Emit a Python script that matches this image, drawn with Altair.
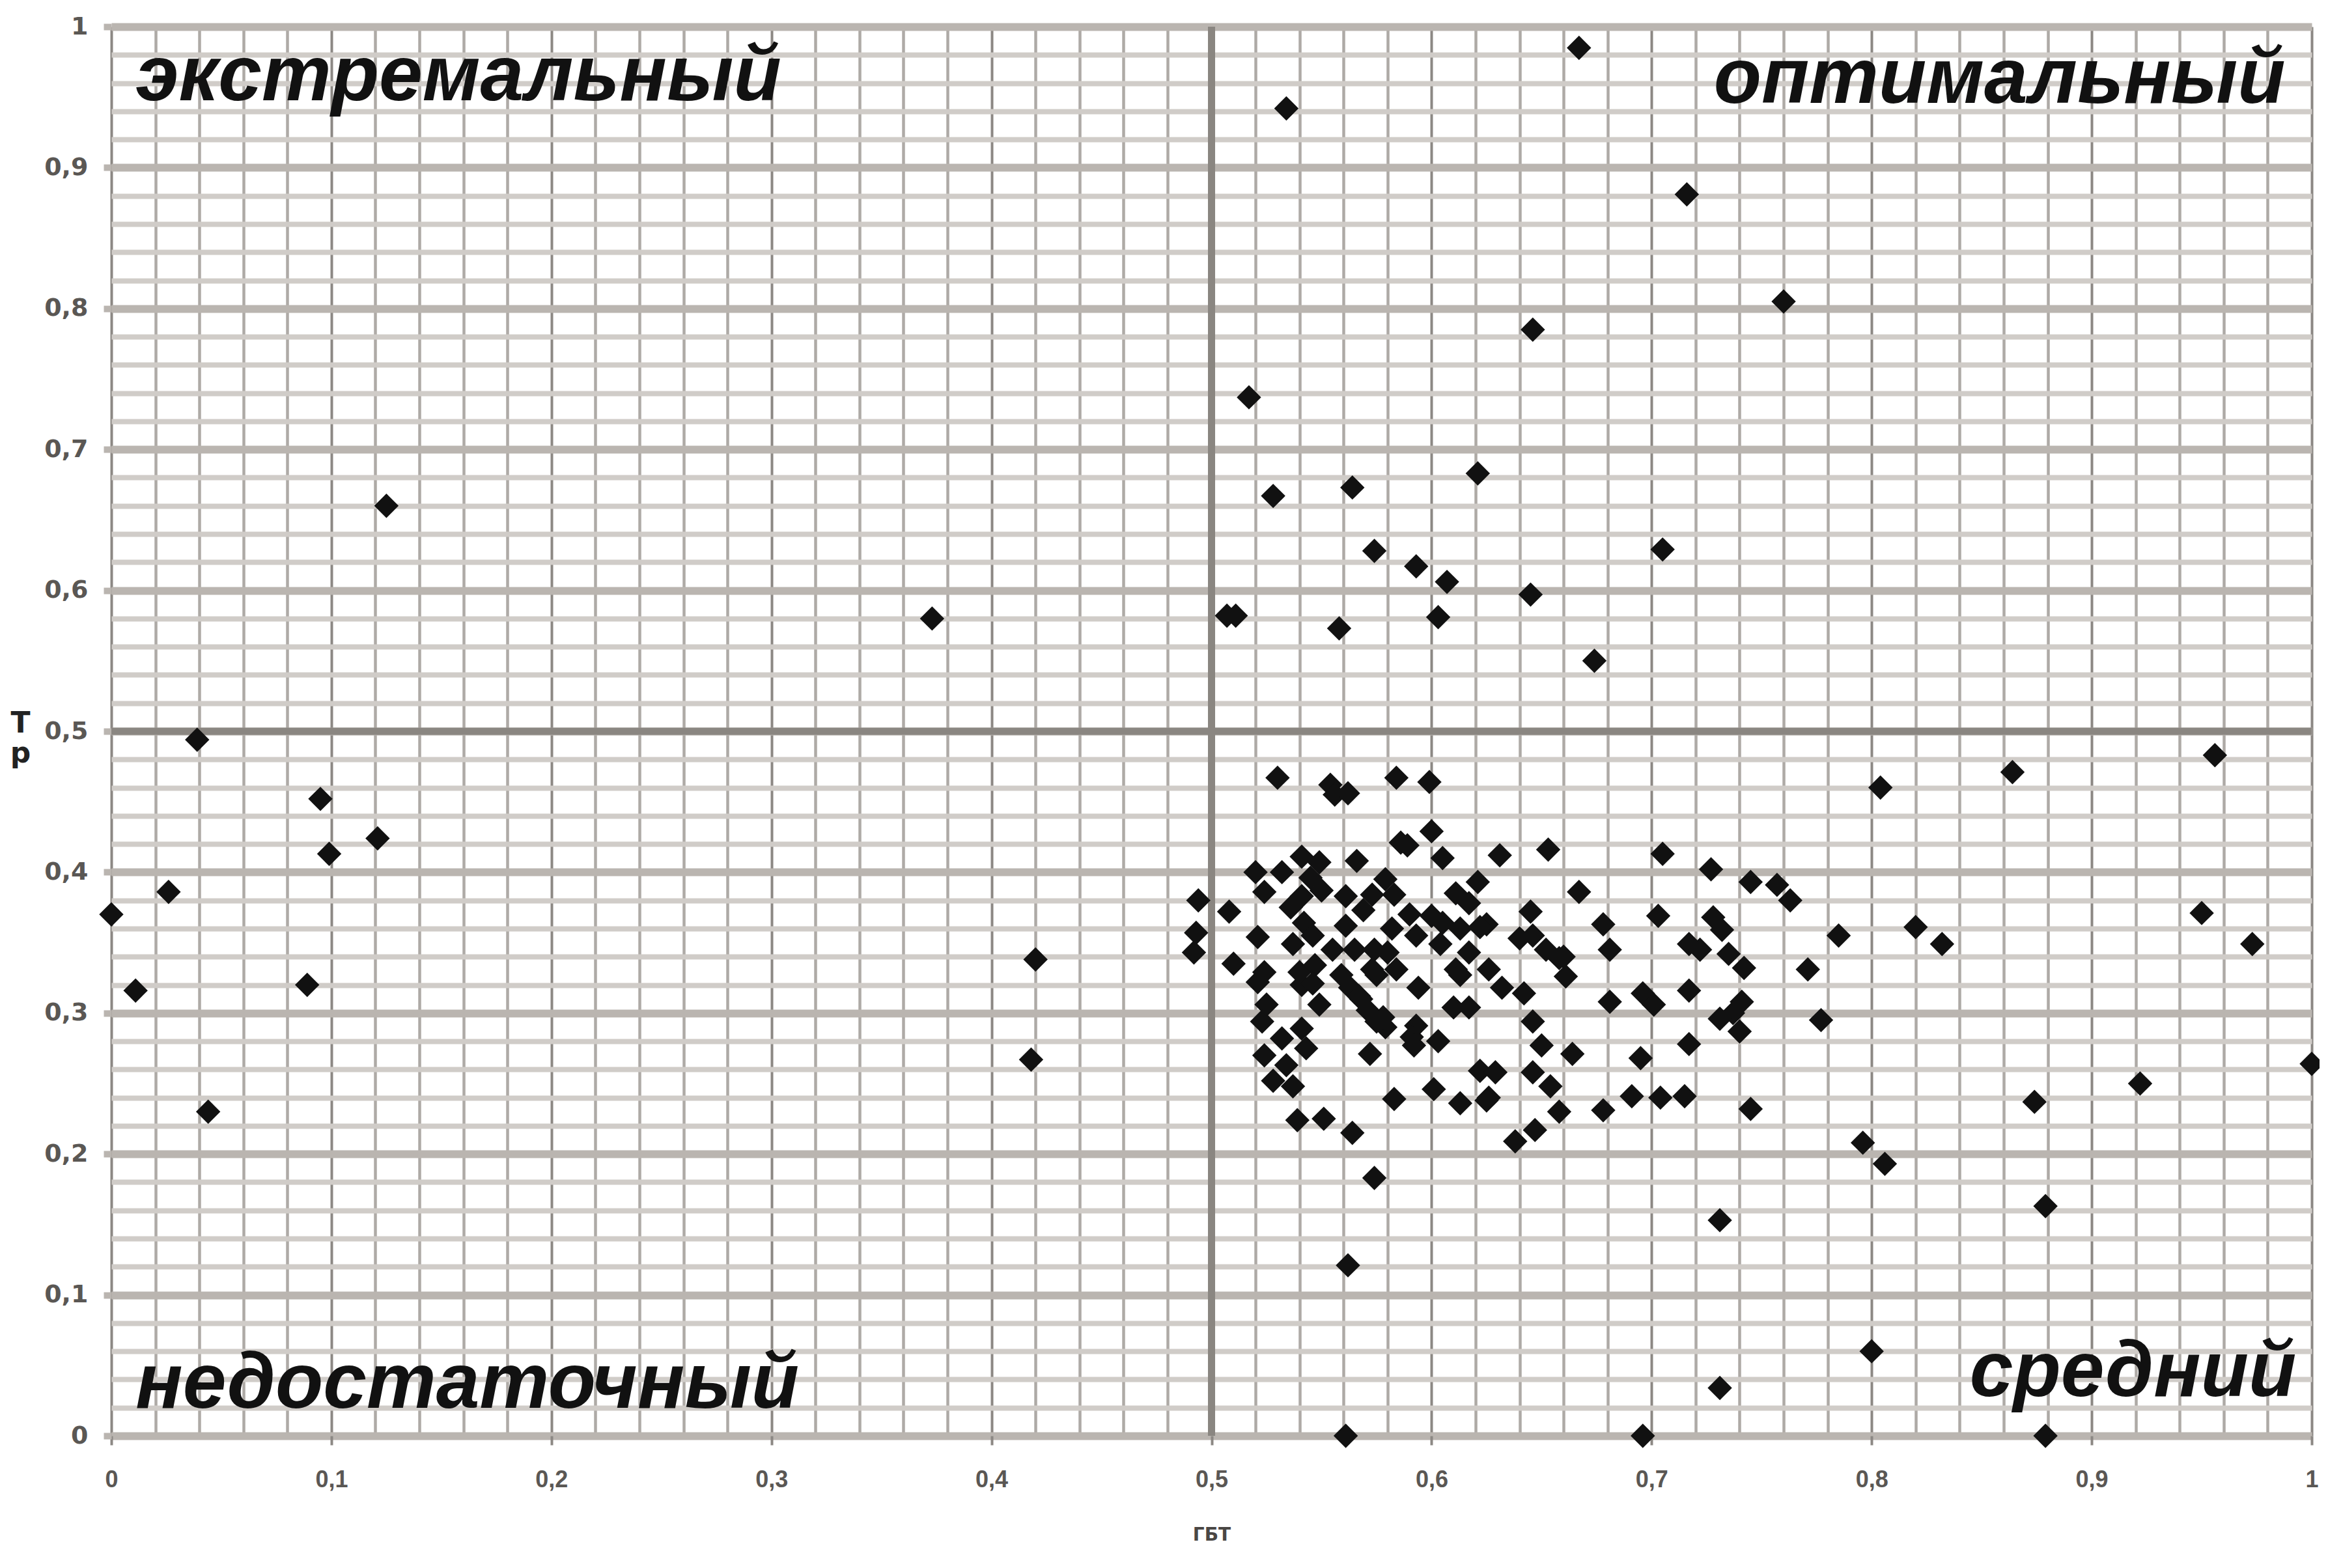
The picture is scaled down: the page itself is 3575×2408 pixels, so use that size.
import altair as alt
import pandas as pd

# ГБТ (x) and Тр (y) values
gbt = [
    0.667, 0.534, 0.716, 0.760, 0.646, 0.517, 0.125, 0.621, 0.564, 0.528, 0.574, 0.705, 0.593, 0.607,
    0.645, 0.373, 0.507, 0.511, 0.603, 0.558, 0.674, 0.039,
    0.095, 0.099, 0.121, 0.026, 0.000, 0.011, 0.089, 0.044, 0.420, 0.418,
    0.804, 0.864, 0.956, 0.950, 0.973, 0.820, 0.832, 0.785, 0.771, 0.777, 1.000, 0.922, 0.874, 0.796,
    0.806, 0.879, 0.731, 0.800, 0.731, 0.562, 0.574, 0.561, 0.696, 0.879,
    0.530, 0.554, 0.556, 0.562, 0.584, 0.599, 0.600, 0.586, 0.589, 0.605, 0.631, 0.653, 0.705, 0.727,
    0.745, 0.757, 0.763, 0.494, 0.508, 0.493, 0.492, 0.510, 0.520, 0.532, 0.541, 0.549, 0.566, 0.524,
    0.536, 0.541, 0.550, 0.561, 0.573, 0.579, 0.583, 0.569, 0.521, 0.537, 0.542, 0.546, 0.555, 0.561,
    0.565, 0.574, 0.580, 0.582, 0.590, 0.593, 0.600, 0.605, 0.611, 0.617, 0.621, 0.613, 0.604, 0.617,
    0.625, 0.645, 0.667, 0.640, 0.646, 0.652, 0.658, 0.661, 0.678, 0.681, 0.703, 0.728, 0.732, 0.717,
    0.722, 0.735, 0.742, 0.524, 0.521, 0.540, 0.541, 0.547, 0.559, 0.563, 0.567, 0.573, 0.575, 0.584,
    0.594, 0.611, 0.613, 0.626, 0.632, 0.642, 0.525, 0.549, 0.523, 0.571, 0.575, 0.579, 0.593, 0.610,
    0.617, 0.681, 0.696, 0.701, 0.717, 0.741, 0.737, 0.731, 0.740, 0.541, 0.532, 0.543, 0.524, 0.534,
    0.528, 0.537, 0.591, 0.592, 0.603, 0.646, 0.650, 0.664, 0.572, 0.717, 0.695, 0.622, 0.629, 0.646,
    0.654, 0.601, 0.583, 0.613, 0.626, 0.658, 0.678, 0.691, 0.704, 0.715, 0.745, 0.539, 0.551, 0.564,
    0.647, 0.638, 0.545, 0.546, 0.568, 0.578, 0.622, 0.660, 0.625,
]
tr = [
    0.985, 0.942, 0.881, 0.805, 0.785, 0.737, 0.660, 0.683, 0.673, 0.667, 0.628, 0.629, 0.617, 0.606,
    0.597, 0.580, 0.582, 0.582, 0.581, 0.573, 0.550, 0.494,
    0.452, 0.413, 0.424, 0.386, 0.370, 0.316, 0.320, 0.230, 0.338, 0.267,
    0.460, 0.471, 0.483, 0.371, 0.349, 0.361, 0.349, 0.355, 0.331, 0.295, 0.264, 0.250, 0.237, 0.208,
    0.193, 0.163, 0.153, 0.060, 0.034, 0.121, 0.183, 0.000, 0.000, 0.000,
    0.467, 0.462, 0.455, 0.456, 0.467, 0.464, 0.429, 0.421, 0.419, 0.410, 0.412, 0.416, 0.413, 0.402,
    0.393, 0.391, 0.380, 0.380, 0.372, 0.357, 0.343, 0.335, 0.400, 0.400, 0.411, 0.407, 0.408, 0.386,
    0.375, 0.383, 0.387, 0.383, 0.384, 0.395, 0.384, 0.373, 0.354, 0.349, 0.364, 0.355, 0.345, 0.362,
    0.345, 0.345, 0.343, 0.360, 0.370, 0.355, 0.369, 0.364, 0.385, 0.378, 0.393, 0.360, 0.349, 0.343,
    0.363, 0.372, 0.386, 0.353, 0.355, 0.345, 0.339, 0.326, 0.363, 0.345, 0.369, 0.368, 0.359, 0.349,
    0.345, 0.342, 0.332, 0.329, 0.322, 0.329, 0.320, 0.334, 0.327, 0.318, 0.312, 0.331, 0.327, 0.331,
    0.318, 0.331, 0.327, 0.331, 0.318, 0.314, 0.306, 0.306, 0.294, 0.302, 0.294, 0.290, 0.291, 0.304,
    0.304, 0.308, 0.314, 0.306, 0.316, 0.308, 0.300, 0.296, 0.287, 0.289, 0.282, 0.275, 0.270, 0.263,
    0.252, 0.248, 0.283, 0.277, 0.280, 0.294, 0.277, 0.271, 0.271, 0.278, 0.268, 0.259, 0.258, 0.258,
    0.248, 0.246, 0.239, 0.236, 0.240, 0.230, 0.231, 0.241, 0.240, 0.241, 0.232, 0.224, 0.225, 0.215,
    0.217, 0.209, 0.396, 0.321, 0.310, 0.297, 0.361, 0.340, 0.238,
]

quadrant_labels = ["экстремальный", "оптимальный", "недостаточный", "средний"]
x_title = "ГБТ"
y_title = ["Т", "р"]

grid_values = [round(i * 0.02, 2) for i in range(51)]
MAJOR = "abs(datum.value * 10 - round(datum.value * 10)) < 0.000001"
LABEL = MAJOR + " ? replace(format(datum.value, '.1~f'), '.', ',') : ''"

df = pd.DataFrame({"gbt": gbt, "tr": tr})

x_axis = alt.Axis(
    values=grid_values, labelExpr=LABEL, title=x_title, domain=False,
    grid=True,
    gridColor={"condition": {"test": MAJOR, "value": "#8c8884"}, "value": "#aeaaa6"},
    gridWidth={"condition": {"test": MAJOR, "value": 4}, "value": 4.5},
    ticks=True, tickSize=14, tickColor="#8c8884", tickWidth=4,
    tickOpacity={"condition": {"test": MAJOR, "value": 1}, "value": 0},
    labelFont="Liberation Sans", labelFontSize=36, labelFontWeight="bold", labelColor="#5a5754",
    labelPadding=36, labelFlush=False, labelOverlap=False,
    titleFont="DejaVu Sans", titleFontSize=28, titleFontWeight="bold", titleColor="#4a4744",
    titleY=152, titleBaseline="middle",
)
y_axis = alt.Axis(
    values=grid_values, labelExpr=LABEL, title=y_title, domain=False,
    grid=True,
    gridColor={"condition": {"test": MAJOR, "value": "#bab5b0"}, "value": "#d0ccc8"},
    gridWidth={"condition": {"test": MAJOR, "value": 12}, "value": 8},
    ticks=True, tickSize=12, tickColor="#bab5b0", tickWidth=10,
    tickOpacity={"condition": {"test": MAJOR, "value": 1}, "value": 0},
    labelFont="DejaVu Sans", labelFontSize=38, labelFontWeight="bold", labelColor="#5a5754",
    labelPadding=24, labelFlush=False, labelOverlap=False,
    titleFont="DejaVu Sans", titleFontSize=44, titleColor="#222222", titleFontWeight="bold",
    titleAngle=0, titleX=-140, titleY=1070, titleAlign="center", titleBaseline="middle",
    titleLineHeight=46,
)

x_scale = alt.Scale(domain=[0, 1], nice=False, zero=False)
y_scale = alt.Scale(domain=[0, 1], nice=False, zero=False)

points = alt.Chart(df).mark_point(
    shape="diamond", filled=True, color="#111111", opacity=1, size=1400
).encode(
    x=alt.X("gbt:Q", scale=x_scale, axis=x_axis),
    y=alt.Y("tr:Q", scale=y_scale, axis=y_axis),
)

divider_color = "#8a8681"
vline = alt.Chart().mark_rule(color=divider_color, strokeWidth=11).encode(x=alt.datum(0.5))
hline = alt.Chart().mark_rule(color=divider_color, strokeWidth=11).encode(y=alt.datum(0.5))

text_style = dict(font="Liberation Sans", fontSize=120, fontWeight="bold", fontStyle="italic",
                  color="#111111", baseline="alphabetic")
t1 = alt.Chart().mark_text(text=quadrant_labels[0], align="left", **text_style).encode(
    x=alt.datum(0.011), y=alt.datum(0.948))
t2 = alt.Chart().mark_text(text=quadrant_labels[1], align="right", **text_style).encode(
    x=alt.datum(0.988), y=alt.datum(0.946))
t3 = alt.Chart().mark_text(text=quadrant_labels[2], align="left", **text_style).encode(
    x=alt.datum(0.011), y=alt.datum(0.020))
t4 = alt.Chart().mark_text(text=quadrant_labels[3], align="right", **text_style).encode(
    x=alt.datum(0.993), y=alt.datum(0.028))

chart = alt.layer(vline, hline, t1, t2, t3, t4, points).properties(
    width=3379, height=2164,
    autosize=alt.AutoSizeParams(type="none"),
    padding={"left": 163, "top": 33, "right": 12, "bottom": 180},
    background="white",
).configure_view(stroke=None)

chart.save("out.html", embed_options={"renderer": "svg", "actions": False})
